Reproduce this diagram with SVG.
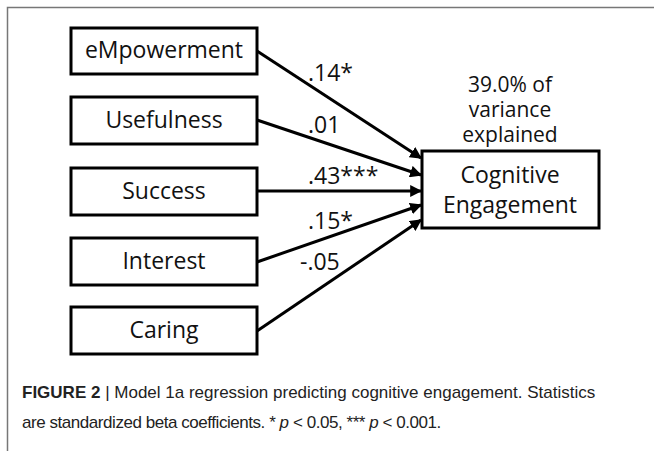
<svg xmlns="http://www.w3.org/2000/svg" width="654" height="451" viewBox="0 0 654 451">
<style>
.box{fill:#fff;stroke:#000;stroke-width:3}
.lbl{font-family:"Open Sans","Liberation Sans",sans-serif;font-size:23px;fill:#111;text-anchor:middle}
.var{font-family:"Open Sans","Liberation Sans",sans-serif;font-size:21px;fill:#111;text-anchor:middle}
.coef{font-family:"Open Sans","Liberation Sans",sans-serif;font-size:23px;fill:#111}
.edge{stroke:#000;stroke-width:3;fill:none;marker-end:url(#ah)}
.cap{font-family:"Liberation Sans",Arial,sans-serif;font-size:17px;fill:#222}
</style>
<defs>
<marker id="ah" markerWidth="4" markerHeight="4" refX="3.6" refY="2" orient="auto" markerUnits="strokeWidth">
<path d="M0,0 L4,2 L0,4 Z" fill="#000"/>
</marker>
</defs>
<rect x="0" y="0" width="654" height="451" fill="#fff"/>
<rect x="7.5" y="7.5" width="700" height="500" fill="none" stroke="#777" stroke-width="1.5"/>
<g id="connectors">
<line class="edge" x1="257" y1="51" x2="421" y2="158"/>
<line class="edge" x1="257" y1="120" x2="421" y2="175"/>
<line class="edge" x1="257" y1="191" x2="421" y2="191"/>
<line class="edge" x1="257" y1="262" x2="421" y2="205"/>
<line class="edge" x1="257" y1="331" x2="421" y2="220"/>
<text class="coef" x="308" y="81">.14*</text>
<text class="coef" x="308" y="133">.01</text>
<text class="coef" x="308" y="184">.43***</text>
<text class="coef" x="308" y="229">.15*</text>
<text class="coef" x="300" y="270">-.05</text>
</g>
<g id="empowerment"><rect class="box" x="71" y="28" width="186" height="46"/><text class="lbl" x="164" y="58">eMpowerment</text></g>
<g id="usefulness"><rect class="box" x="71" y="97" width="186" height="47"/><text class="lbl" x="164" y="128">Usefulness</text></g>
<g id="success"><rect class="box" x="71" y="168" width="186" height="47"/><text class="lbl" x="164" y="199">Success</text></g>
<g id="interest"><rect class="box" x="71" y="238" width="186" height="47"/><text class="lbl" x="164" y="269">Interest</text></g>
<g id="caring"><rect class="box" x="71" y="307" width="186" height="47"/><text class="lbl" x="164" y="338">Caring</text></g>
<g id="cognitive-engagement">
<rect class="box" x="422" y="151" width="177" height="77"/>
<text class="lbl" x="510" y="183">Cognitive<tspan x="510" dy="30">Engagement</tspan></text>
</g>
<g id="variance">
<text class="var" x="510" y="92">39.0% of<tspan x="510" dy="25">variance</tspan><tspan x="510" dy="25">explained</tspan></text>
</g>
<text class="cap" x="22" y="398"><tspan font-weight="bold">FIGURE 2</tspan> | Model 1a regression predicting cognitive engagement. Statistics</text>
<text class="cap" x="22" y="428" letter-spacing="-0.45">are standardized beta coefficients. * <tspan font-style="italic">p</tspan> &lt; 0.05, *** <tspan font-style="italic">p</tspan> &lt; 0.001.</text>
</svg>
